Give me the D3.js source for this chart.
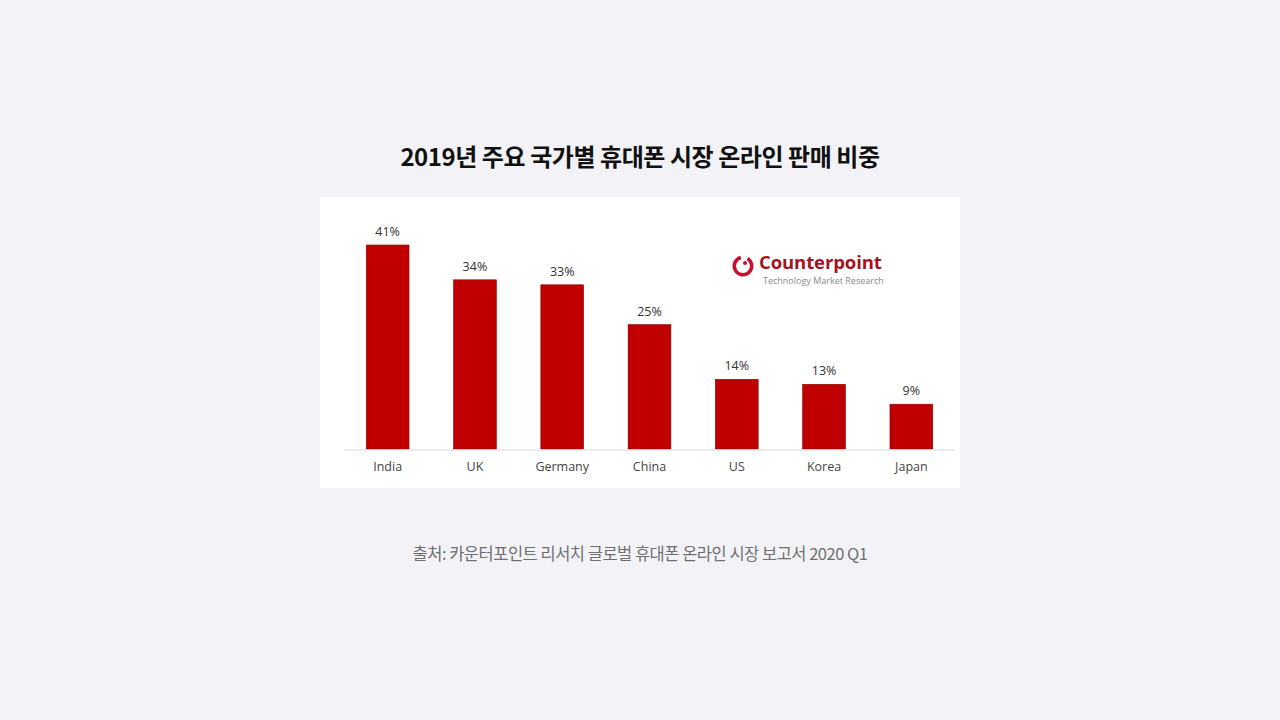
<!DOCTYPE html>
<html><head><meta charset="utf-8">
<script src="https://cdn.jsdelivr.net/npm/d3@7/dist/d3.min.js"></script>
<style>
html,body{margin:0;padding:0;background:#f3f3f7;}
svg{display:block;}
</style></head>
<body>
<svg id="chart" width="1280" height="720"></svg>
<script>
const categories = ["India","UK","Germany","China","US","Korea","Japan"];
const values = [41,34,33,25,14,13,9];
const valueLabels = ["41%","34%","33%","25%","14%","13%","9%"];
const titleText = "2019년 주요 국가별 휴대폰 시장 온라인 판매 비중";
const sourceText = "출처: 카운터포인트 리서치 글로벌 휴대폰 온라인 시장 보고서 2020 Q1";

const svg = d3.select("#chart");
const kr = "'Noto Sans CJK KR','Noto Sans',sans-serif";
const lat = "'Open Sans','Noto Sans',sans-serif";

svg.append("rect").attr("width",1280).attr("height",720).attr("fill","#f3f3f7");

svg.append("text").attr("x",640).attr("y",166).attr("text-anchor","middle")
  .attr("font-family",kr).attr("font-weight",700).attr("font-size",24)
  .attr("letter-spacing",-0.45).attr("fill","#111").text(titleText);

// panel
svg.append("rect").attr("x",320).attr("y",197).attr("width",640).attr("height",291).attr("fill","#ffffff");

const x = d3.scaleBand().domain(categories).range([344,955]).paddingInner(0.51).paddingOuter(0.255);
const y = d3.scaleLinear().domain([0,41]).range([449,245]);

const g = svg.append("g");
g.selectAll("rect.bar").data(values).join("rect").attr("class","bar")
  .attr("x",(d,i)=>x(categories[i])).attr("width",x.bandwidth())
  .attr("y",d=>y(d)).attr("height",d=>y(0)-y(d))
  .attr("fill","#c00000").attr("stroke","#8a0000").attr("stroke-width",0.6);

g.append("line").attr("x1",344).attr("x2",955).attr("y1",450).attr("y2",450)
  .attr("stroke","#d9d9d9").attr("stroke-width",1.2);

g.selectAll("text.val").data(values).join("text").attr("class","val")
  .attr("x",(d,i)=>x(categories[i])+x.bandwidth()/2).attr("y",d=>y(d)-9)
  .attr("text-anchor","middle").attr("font-family",lat).attr("font-size",12.5)
  .attr("fill","#333").text((d,i)=>valueLabels[i]);

const xAxis = g.append("g").attr("transform","translate(0,450)")
  .call(d3.axisBottom(x).tickSize(0).tickPadding(12));
xAxis.select(".domain").remove();
xAxis.selectAll("text").attr("font-family",lat).attr("font-size",12.5).attr("fill","#444");

// logo
const logo = svg.append("g");
logo.append("path").attr("d",d3.arc()({innerRadius:7,outerRadius:10.5,startAngle:0.55,endAngle:2*Math.PI-0.25}))
  .attr("transform","translate(743,266)").attr("fill","#c8102e");
logo.append("circle").attr("cx",745).attr("cy",263).attr("r",2).attr("fill","#c8102e");
logo.append("text").attr("x",759).attr("y",269).attr("font-family",lat).attr("font-weight",700)
  .attr("font-size",18.5).attr("letter-spacing",-0.1).attr("fill","#a3141f").text("Counterpoint");
logo.append("text").attr("x",763).attr("y",284).attr("font-family",lat)
  .attr("font-size",9).attr("fill","#8a8a8a").text("Technology Market Research");

svg.append("text").attr("x",640).attr("y",560).attr("text-anchor","middle")
  .attr("font-family",kr).attr("font-size",16.5).attr("letter-spacing",-0.5)
  .attr("fill","#707070").text(sourceText);
</script>
</body></html>
